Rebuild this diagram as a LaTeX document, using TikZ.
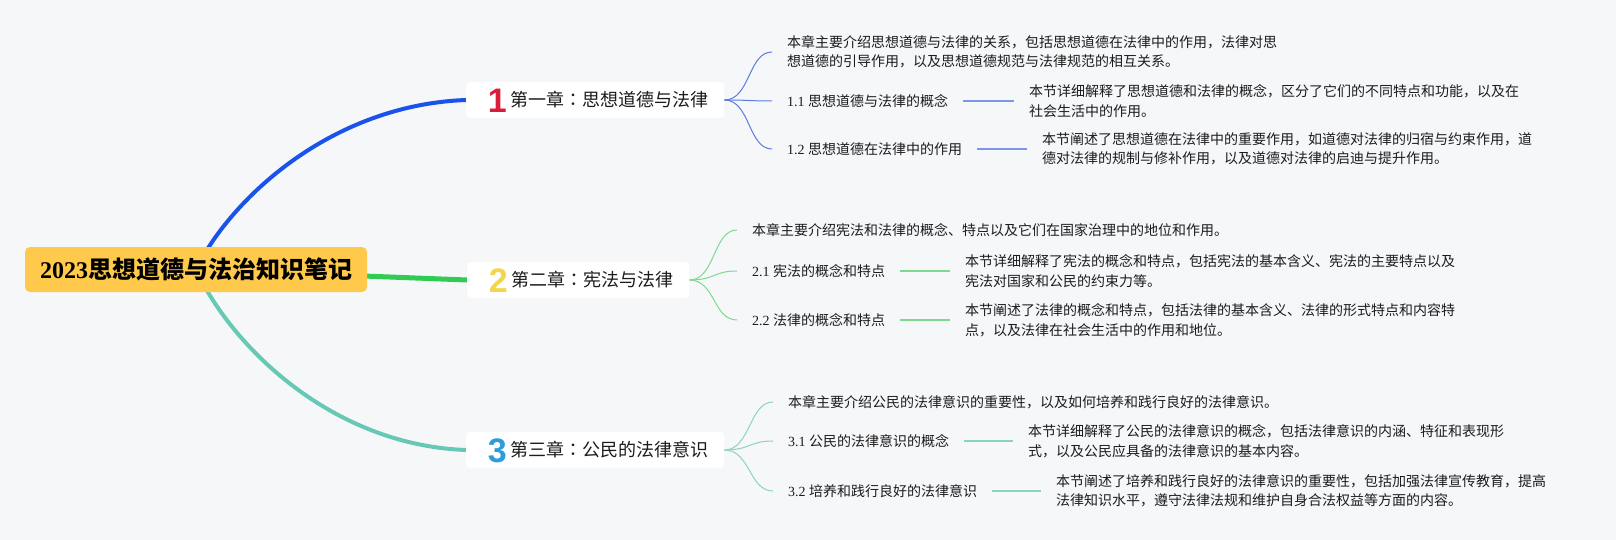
\documentclass[tikz,border=0pt]{standalone}
\usepackage{fontspec}
\setmainfont{Liberation Serif}
\newfontfamily\cjk{Noto Sans CJK SC}
\newfontfamily\cjktc{Noto Sans CJK TC}
\newfontfamily\iconfont{Liberation Sans}
\definecolor{bgc}{HTML}{F6F7F9}
\definecolor{rootfill}{HTML}{FFC94B}
\definecolor{mblue}{HTML}{1A52EC}
\definecolor{mgreen}{HTML}{30CB52}
\definecolor{mteal}{HTML}{68C8B6}
\definecolor{sblue}{HTML}{5B7CE3}
\definecolor{sgreen}{HTML}{7DD992}
\definecolor{steal}{HTML}{8AD4C4}
\definecolor{ired}{HTML}{D91E3A}
\definecolor{iyellow}{HTML}{F3D64E}
\definecolor{iblue}{HTML}{2C9CDB}
\definecolor{txt}{HTML}{1C1C1C}
\pgfdeclarelayer{bglayer}
\pgfdeclarelayer{edgelayer}
\pgfsetlayers{bglayer,edgelayer,main}
\newcommand{\chicon}[2]{\makebox[20pt][c]{\raisebox{-5.4pt}{\iconfont\bfseries\fontsize{34}{34}\selectfont\color{#1}#2}}}
\newcommand{\colonmark}{{\cjktc ：}}
\begin{document}
\begin{tikzpicture}[x=1pt,y=-1pt,
  rootbox/.style={fill=rootfill, rounded corners=5pt, minimum width=342pt, minimum height=45pt, inner sep=0pt, text=black, font=\fontsize{24}{24}\selectfont\bfseries},
  chapbox/.style={fill=white, rounded corners=4pt, minimum height=36pt, inner xsep=0pt, inner ysep=0pt, anchor=west, text=txt, text height=20pt, text depth=6.4pt, font=\fontsize{18}{18}\selectfont},
  lab/.style={anchor=west, inner xsep=15pt, inner ysep=2pt, text=txt, text height=12pt, text depth=1.5pt, font=\fontsize{14}{17}\selectfont},
  desc/.style={anchor=west, inner xsep=15pt, inner ysep=2pt, text=txt, align=left, font=\cjk\fontsize{14}{19.5}\selectfont},
  mainedge/.style={line width=4pt},
  subedge/.style={line width=1pt},
  linkedge/.style={line width=1.5pt}
]
\begin{pgfonlayer}{bglayer}
\path[use as bounding box, fill=bgc] (0,0) rectangle (1616,540);
\end{pgfonlayer}

% root
\node[rootbox] (root) at (196,269.5) {2023{\cjk 思想道德与法治知识笔记}};

% chapters
\node[chapbox] (ch1) at (466,100) {\hspace*{21pt}\chicon{ired}{1}\hspace*{3pt}{\cjk 第一章\colonmark 思想道德与法律}\hspace*{16pt}};
\node[chapbox] (ch2) at (467,280) {\hspace*{21pt}\chicon{iyellow}{2}\hspace*{3pt}{\cjk 第二章\colonmark 宪法与法律}\hspace*{16pt}};
\node[chapbox] (ch3) at (466,450) {\hspace*{21pt}\chicon{iblue}{3}\hspace*{3pt}{\cjk 第三章\colonmark 公民的法律意识}\hspace*{16pt}};

% chapter 1 children
\node[desc] (s1) at (772,52) {本章主要介绍思想道德与法律的关系，包括思想道德在法律中的作用，法律对思\\想道德的引导作用，以及思想道德规范与法律规范的相互关系。};
\node[lab] (c11) at (772,101) {1.1 {\cjk 思想道德与法律的概念}};
\node[desc] (d11) at (1014,101) {本节详细解释了思想道德和法律的概念，区分了它们的不同特点和功能，以及在\\社会生活中的作用。};
\node[lab] (c12) at (772,149) {1.2 {\cjk 思想道德在法律中的作用}};
\node[desc] (d12) at (1027,149) {本节阐述了思想道德在法律中的重要作用，如道德对法律的归宿与约束作用，道\\德对法律的规制与修补作用，以及道德对法律的启迪与提升作用。};

% chapter 2 children
\node[desc] (s2) at (737,230) {本章主要介绍宪法和法律的概念、特点以及它们在国家治理中的地位和作用。};
\node[lab] (c21) at (737,271) {2.1 {\cjk 宪法的概念和特点}};
\node[desc] (d21) at (950,271) {本节详细解释了宪法的概念和特点，包括宪法的基本含义、宪法的主要特点以及\\宪法对国家和公民的约束力等。};
\node[lab] (c22) at (737,320) {2.2 {\cjk 法律的概念和特点}};
\node[desc] (d22) at (950,320) {本节阐述了法律的概念和特点，包括法律的基本含义、法律的形式特点和内容特\\点，以及法律在社会生活中的作用和地位。};

% chapter 3 children
\node[desc] (s3) at (773,402) {本章主要介绍公民的法律意识的重要性，以及如何培养和践行良好的法律意识。};
\node[lab] (c31) at (773,441) {3.1 {\cjk 公民的法律意识的概念}};
\node[desc] (d31) at (1013,441) {本节详细解释了公民的法律意识的概念，包括法律意识的内涵、特征和表现形\\式，以及公民应具备的法律意识的基本内容。};
\node[lab] (c32) at (773,491) {3.2 {\cjk 培养和践行良好的法律意识}};
\node[desc] (d32) at (1041,491) {本节阐述了培养和践行良好的法律意识的重要性，包括加强法律宣传教育，提高\\法律知识水平，遵守法律法规和维护自身合法权益等方面的内容。};

\begin{pgfonlayer}{edgelayer}
\draw[mainedge, mblue] (root.center) .. controls (230,200) and (330,105) .. (ch1.west);
\draw[line width=5pt, mgreen] (root.center) -- (ch2.west);
\draw[mainedge, mteal] (root.center) .. controls (230,344) and (330,445) .. (ch3.west);
\foreach \n in {s1,c11,c12}
  \draw[subedge, sblue] (ch1.east) .. controls +(26,0) and +(-24,0) .. (\n.west);
\foreach \n in {s2,c21,c22}
  \draw[subedge, sgreen] (ch2.east) .. controls +(26,0) and +(-24,0) .. (\n.west);
\foreach \n in {s3,c31,c32}
  \draw[subedge, steal] (ch3.east) .. controls +(26,0) and +(-24,0) .. (\n.west);
\draw[linkedge, sblue!80] (c11.east) -- (d11.west);
\draw[linkedge, sblue!80] (c12.east) -- (d12.west);
\draw[linkedge, sgreen] (c21.east) -- (d21.west);
\draw[linkedge, sgreen] (c22.east) -- (d22.west);
\draw[linkedge, steal] (c31.east) -- (d31.west);
\draw[linkedge, steal] (c32.east) -- (d32.west);
\end{pgfonlayer}
\end{tikzpicture}
\end{document}
